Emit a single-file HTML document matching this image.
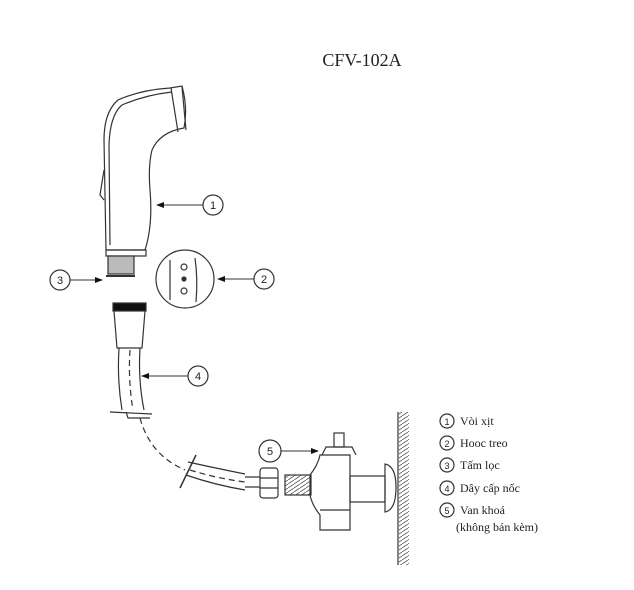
<!DOCTYPE html>
<html><head><meta charset="utf-8"><style>
html,body{margin:0;padding:0;background:#fff;}
svg{display:block;}
text{font-family:"Liberation Serif",serif;fill:#222;}
.n{font-family:"Liberation Sans",sans-serif;font-size:11px;text-anchor:middle;}
</style></head><body>
<svg width="634" height="590" viewBox="0 0 634 590" xmlns="http://www.w3.org/2000/svg">
<defs><marker id="a" markerWidth="8" markerHeight="6" refX="7" refY="3" orient="auto"><path d="M0,0 L8,3 L0,6z" fill="#111"/></marker>
<pattern id="h" width="6" height="4" patternUnits="userSpaceOnUse"><path d="M0,4 L6,0" stroke="#555" stroke-width="0.8"/></pattern></defs>
<text x="362" y="66" font-size="18" text-anchor="middle">CFV-102A</text>
<g fill="none" stroke="#333" stroke-width="1.2">
<!-- hand shower -->
<path d="M106,250 L104,140 Q104,112 118,100 Q140,90 170,88 L182,86 Q188,108 184,128 Q160,132 152,150 Q148,166 150,190 Q153,225 145,250 Z"/>
<path d="M110,245 L109,145 Q110,115 122,105 Q145,95 172,92"/>
<path d="M171,88 L178,132 M182,87 L186,130"/>
<path d="M104,170 L100,195 L104,200"/>
<rect x="106" y="250" width="40" height="6"/>
<rect x="108" y="256" width="26" height="18" fill="#bbb"/>
<line x1="106" y1="276" x2="135" y2="276" stroke-width="2"/>
<!-- hook -->
<circle cx="185" cy="279" r="29"/>
<path d="M170,260 L170,300 M195,258 Q198,279 196,302"/>
<circle cx="184" cy="267" r="3"/><circle cx="184" cy="279" r="2" fill="#333"/><circle cx="184" cy="291" r="3"/>
<!-- hose -->
<rect x="113" y="303" width="33" height="8" fill="#111"/>
<path d="M114,311 L117,348 L142,348 L145,311"/>
<path d="M119,348 Q117,380 122,410 M140,348 Q138,380 144,410"/>
<path d="M130,350 Q128,380 133,410" stroke-dasharray="6,4"/>
<path d="M110,412 L152,414 M126,412 L128,418 L150,418"/>
<path d="M140,418 Q150,455 185,470" stroke-dasharray="6,4"/>
<path d="M196,455 L180,488" stroke-width="1.5"/>
<path d="M188,462 Q215,468 245,474 M186,475 Q215,485 245,490"/>
<path d="M190,470 Q215,478 245,482" stroke-dasharray="6,4"/>
<path d="M245,477 L260,477 M245,487 L260,487"/>
<rect x="260" y="468" width="18" height="30" rx="3"/>
<path d="M260,478 L278,478 M260,488 L278,488"/>
<rect x="285" y="475" width="26" height="20" fill="url(#h)"/>
<!-- valve -->
<path d="M310,475 Q318,465 320,455 L350,455 L350,530 L320,530 L320,515 Q312,505 310,495 Z"/>
<path d="M322,455 L326,447 L352,447 L356,455"/>
<rect x="334" y="433" width="10" height="14"/>
<line x1="320" y1="510" x2="350" y2="510"/>
<rect x="350" y="476" width="35" height="26"/>
<path d="M385,464 Q396,466 396,487 Q396,510 385,512 Z"/>
<line x1="398" y1="412" x2="398" y2="565"/>
<rect x="399" y="412" width="10" height="153" fill="url(#h)" stroke="none"/>
<!-- callouts -->
<line x1="203" y1="205" x2="157" y2="205" marker-end="url(#a)" stroke-width="1"/>
<line x1="254" y1="279" x2="218" y2="279" marker-end="url(#a)" stroke-width="1"/>
<line x1="70" y1="280" x2="102" y2="280" marker-end="url(#a)" stroke-width="1"/>
<line x1="188" y1="376" x2="142" y2="376" marker-end="url(#a)" stroke-width="1"/>
<line x1="281" y1="451" x2="318" y2="451" marker-end="url(#a)" stroke-width="1"/>
<circle cx="213" cy="205" r="10"/><circle cx="264" cy="279" r="10"/><circle cx="60" cy="280" r="10"/>
<circle cx="198" cy="376" r="10"/><circle cx="270" cy="451" r="11"/>
<circle cx="447" cy="421" r="7"/><circle cx="447" cy="443" r="7"/><circle cx="447" cy="465" r="7"/><circle cx="447" cy="488" r="7"/><circle cx="447" cy="510" r="7"/>
</g>
<g stroke="none">
<text class="n" x="213" y="209">1</text><text class="n" x="264" y="283">2</text><text class="n" x="60" y="284">3</text>
<text class="n" x="198" y="380">4</text><text class="n" x="270" y="455">5</text>
<g font-size="9"><text class="n" x="447" y="425" style="font-size:9px">1</text><text class="n" x="447" y="447" style="font-size:9px">2</text><text class="n" x="447" y="469" style="font-size:9px">3</text><text class="n" x="447" y="492" style="font-size:9px">4</text><text class="n" x="447" y="514" style="font-size:9px">5</text></g>
<g font-size="12"><text x="460" y="425">Vòi xịt</text><text x="460" y="447">Hooc treo</text><text x="460" y="469">Tấm lọc</text><text x="460" y="492">Dây cấp nốc</text><text x="460" y="514">Van khoá</text><text x="456" y="531">(không bán kèm)</text></g>
</g>
</svg>
</body></html>
